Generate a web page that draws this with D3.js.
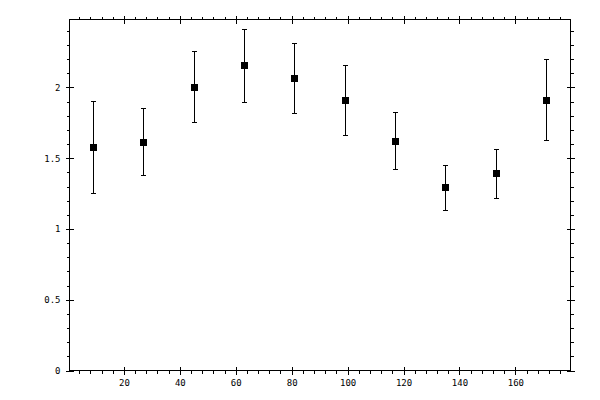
<!DOCTYPE html>
<html>
<head>
<meta charset="utf-8">
<script src="https://cdn.jsdelivr.net/npm/d3@7"></script>
<style>
  body { margin: 0; background: #fff; }
  svg text { font-family: "DejaVu Sans Mono", monospace; font-size: 9px; fill: #000; }
</style>
</head>
<body>
<div id="chart"></div>
<script>
// data
var binCenters = [9, 27, 45, 63, 81, 99, 117, 135, 153, 171]
var values = [1.576, 1.618, 2.006, 2.155, 2.064, 1.914, 1.624, 1.296, 1.392, 1.914]
var errors = [0.325, 0.235, 0.252, 0.256, 0.247, 0.248, 0.2, 0.159, 0.171, 0.288]
var xMajorTicks = [20, 40, 60, 80, 100, 120, 140, 160]
var yMajorTicks = [0, 0.5, 1, 1.5, 2]

var width = 600, height = 400
var pLeft = 69.5, pRight = 570.5, pTop = 19.5, pBottom = 370.5

var svg = d3.select("#chart")
  .append("svg")
  .attr("width", width)
  .attr("height", height)
  .attr("shape-rendering", "crispEdges")

var x = d3.scaleLinear()
  .domain([0.55, 179.7])
  .range([pLeft, pRight])

var y = d3.scaleLinear()
  .domain([0, 2.48])
  .range([pBottom, pTop])

var xMinor = d3.range(4, 180, 4).filter(function(d) { return d % 20 != 0 })
var yMinor = d3.range(1, 25).map(function(d) { return d / 10 }).filter(function(d) { return Math.round(d * 10) % 5 != 0 })

// draws one side: outward minor ticks, major ticks crossing the frame line
function side(axisFn, scale, pos, major, minor, labels) {
  var g = svg.append("g").attr("transform", pos)
  g.append("g").call(axisFn(scale).tickValues(minor).tickSize(3).tickFormat(""))
  g.append("g").call(axisFn(scale).tickValues(major).tickSize(-4).tickFormat(""))
  g.append("g").call(axisFn(scale).tickValues(major).tickSize(4).tickPadding(5)
    .tickFormat(labels ? d3.format("") : ""))
  g.selectAll(".domain").remove()
  g.selectAll("line").attr("stroke", "#000")
  g.selectAll("text").attr("font-family", null).attr("font-size", null)
}

side(d3.axisBottom, x, "translate(0," + pBottom + ")", xMajorTicks, xMinor, true)
side(d3.axisTop, x, "translate(0," + pTop + ")", xMajorTicks, xMinor, false)
side(d3.axisLeft, y, "translate(" + pLeft + ",0)", yMajorTicks, yMinor, true)
side(d3.axisRight, y, "translate(" + pRight + ",0)", yMajorTicks, yMinor, false)

svg.append("rect")
  .attr("x", pLeft)
  .attr("y", pTop)
  .attr("width", pRight - pLeft)
  .attr("height", pBottom - pTop)
  .style("fill", "none")
  .style("stroke", "#000")

var pts = binCenters.map(function(d, i) { return { x: d, v: values[i], e: errors[i] } })

var bars = svg.append("g")
  .selectAll("g")
  .data(pts)
  .enter()
  .append("g")

bars.append("line")
  .attr("x1", function(d) { return Math.round(x(d.x)) + 0.5 })
  .attr("x2", function(d) { return Math.round(x(d.x)) + 0.5 })
  .attr("y1", function(d) { return y(d.v + d.e) })
  .attr("y2", function(d) { return y(d.v - d.e) })
  .attr("stroke", "#000")

bars.selectAll(".cap")
  .data(function(d) { return [d.v + d.e, d.v - d.e].map(function(v) { return { x: d.x, v: v } }) })
  .enter()
  .append("line")
  .attr("x1", function(d) { return Math.round(x(d.x)) - 2 })
  .attr("x2", function(d) { return Math.round(x(d.x)) + 3 })
  .attr("y1", function(d) { return Math.round(y(d.v)) + 0.5 })
  .attr("y2", function(d) { return Math.round(y(d.v)) + 0.5 })
  .attr("stroke", "#000")

bars.append("rect")
  .attr("x", function(d) { return Math.round(x(d.x)) - 3 })
  .attr("y", function(d) { return Math.round(y(d.v)) - 3 })
  .attr("width", 7)
  .attr("height", 7)
  .style("fill", "#000")
</script>
</body>
</html>
